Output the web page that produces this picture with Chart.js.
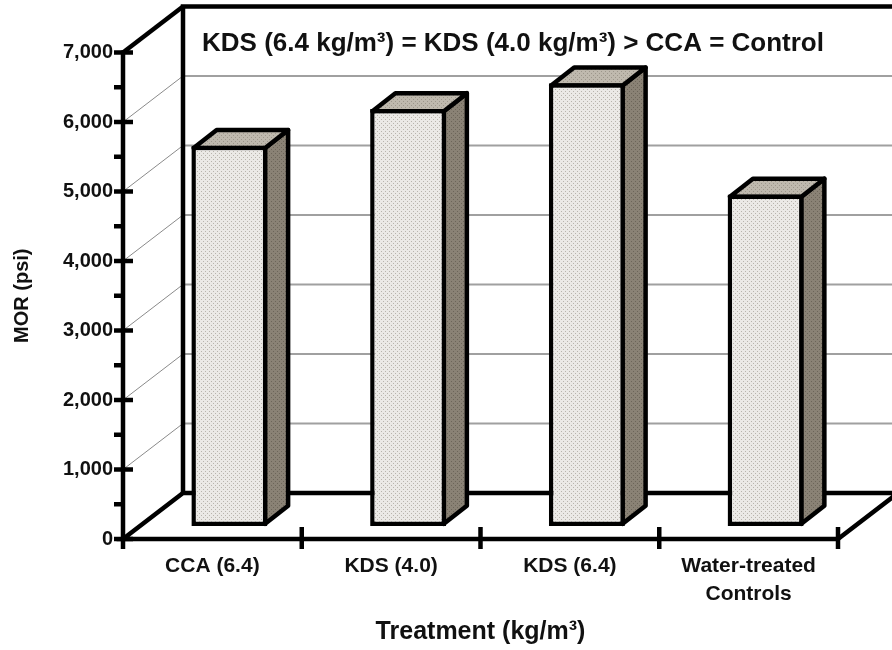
<!DOCTYPE html>
<html>
<head>
<meta charset="utf-8">
<script src="https://cdn.jsdelivr.net/npm/chart.js@4.4.1/dist/chart.umd.min.js"></script>
<style>
  html, body { margin: 0; padding: 0; background: #fff; }
  #wrap { width: 892px; height: 650px; }
</style>
</head>
<body>
<div id="wrap"><canvas id="c" width="892" height="650"></canvas></div>
<script>
// Modulus of rupture by preservative treatment
const treatments = ['CCA (6.4)', 'KDS (4.0)', 'KDS (6.4)', ['Water-treated', 'Controls']];
const morPsi = [5470, 6000, 6370, 4770];
const yTickValues = [0, 1000, 2000, 3000, 4000, 5000, 6000, 7000];
const chartTitle = 'KDS (6.4 kg/m³) = KDS (4.0 kg/m³) > CCA = Control';
const xAxisTitle = 'Treatment (kg/m³)';
const yAxisTitle = 'MOR (psi)';

const FONT = '"Liberation Sans", Arial, sans-serif';
const INK = '#111';

// 3-D projection offsets (pixels)
const WALL = { dx: 60, dy: -46 };       // floor / back wall depth
const BAR_FRONT = { dx: 17, dy: -13 };  // front face of the columns
const BAR_DEPTH = { dx: 23, dy: -18 };  // column thickness
const FRAME_W = 4.5;

const canvas = document.getElementById('c');
const ctx = canvas.getContext('2d');

function dotted(base, dot) {
  const t = document.createElement('canvas');
  t.width = t.height = 4;
  const g = t.getContext('2d');
  g.fillStyle = base; g.fillRect(0, 0, 4, 4);
  g.fillStyle = dot; g.fillRect(0, 0, 1, 1); g.fillRect(2, 2, 1, 1);
  return ctx.createPattern(t, 'repeat');
}
const frontFill = dotted('#ebe9e6', '#b8b4ad');
const topFill = dotted('#bfb9ae', '#9c968b');
const sideFill = dotted('#8a8275', '#6c6559');

function seg(c, x1, y1, x2, y2) {
  c.beginPath(); c.moveTo(x1, y1); c.lineTo(x2, y2); c.stroke();
}

const box3d = {
  id: 'box3d',
  beforeDatasetsDraw(chart) {
    const { ctx: c, chartArea: a, scales: { y: ys } } = chart;
    const y0 = ys.getPixelForValue(ys.min);
    const yT = ys.getPixelForValue(ys.max);
    c.save();
    // side wall and back wall grid lines
    yTickValues.forEach(v => {
      if (v === ys.min || v === ys.max) return;
      const y = ys.getPixelForValue(v);
      c.strokeStyle = '#8a8a8a'; c.lineWidth = 1;
      seg(c, a.left, y, a.left + WALL.dx, y + WALL.dy);
      c.strokeStyle = '#a0a0a0'; c.lineWidth = 1.8;
      seg(c, a.left + WALL.dx, y + WALL.dy, a.right + WALL.dx, y + WALL.dy);
    });
    // heavy frame: floor, back wall edges, top diagonal
    c.strokeStyle = '#000'; c.lineWidth = FRAME_W; c.lineJoin = 'miter';
    c.beginPath();
    c.moveTo(a.left, y0); c.lineTo(a.right, y0);
    c.lineTo(a.right + WALL.dx, y0 + WALL.dy);
    c.lineTo(a.left + WALL.dx, y0 + WALL.dy);
    c.closePath(); c.stroke();
    c.beginPath();
    c.moveTo(a.left + WALL.dx, y0 + WALL.dy);
    c.lineTo(a.left + WALL.dx, yT + WALL.dy);
    c.lineTo(a.right + WALL.dx, yT + WALL.dy);
    c.stroke();
    seg(c, a.left, yT, a.left + WALL.dx, yT + WALL.dy);
    c.restore();

    // columns: top and side faces; the front face is drawn by Chart.js
    c.save();
    c.translate(BAR_FRONT.dx, BAR_FRONT.dy);
    const h = FRAME_W / 2;
    chart.getDatasetMeta(0).data.forEach(bar => {
      const xl = bar.x - bar.width / 2 + h, xr = bar.x + bar.width / 2 - h;
      const yt = bar.y + h, yb = bar.base - h;
      c.lineWidth = FRAME_W; c.strokeStyle = '#000'; c.lineJoin = 'round';
      c.beginPath();
      c.moveTo(xr, yt); c.lineTo(xr + BAR_DEPTH.dx, yt + BAR_DEPTH.dy);
      c.lineTo(xr + BAR_DEPTH.dx, yb + BAR_DEPTH.dy); c.lineTo(xr, yb);
      c.closePath(); c.fillStyle = sideFill; c.fill(); c.stroke();
      c.beginPath();
      c.moveTo(xl, yt); c.lineTo(xl + BAR_DEPTH.dx, yt + BAR_DEPTH.dy);
      c.lineTo(xr + BAR_DEPTH.dx, yt + BAR_DEPTH.dy); c.lineTo(xr, yt);
      c.closePath(); c.fillStyle = topFill; c.fill(); c.stroke();
    });
    // keep the translation for the dataset drawing
  },
  afterDatasetsDraw(chart) {
    const { ctx: c, chartArea: a, scales: { y: ys } } = chart;
    c.restore();
    const y0 = ys.getPixelForValue(ys.min);
    const yT = ys.getPixelForValue(ys.max);
    c.save();
    c.strokeStyle = '#000'; c.lineWidth = FRAME_W; c.lineCap = 'butt';
    // front value axis
    seg(c, a.left, yT - 2, a.left, y0 + 10);
    // value ticks: major crossing the axis, minor outside
    yTickValues.forEach((v, i) => {
      const y = ys.getPixelForValue(v);
      seg(c, a.left - 9, y, a.left + 10, y);
      if (i < yTickValues.length - 1) {
        const ym = ys.getPixelForValue((v + yTickValues[i + 1]) / 2);
        seg(c, a.left - 9, ym, a.left + 2, ym);
      }
    });
    // category separators
    const step = (a.right - a.left) / treatments.length;
    for (let i = 1; i <= treatments.length; i++) {
      const x = a.left + i * step;
      seg(c, x, y0 - 12, x, y0 + 10);
    }
    c.restore();
  },
  afterDraw(chart) {
    const c = chart.ctx;
    c.save();
    c.fillStyle = INK;
    c.font = 'bold 26px ' + FONT;
    c.textAlign = 'center';
    c.textBaseline = 'middle';
    c.fillText(chartTitle, 513, 44);
    c.restore();
  }
};

new Chart(ctx, {
  type: 'bar',
  data: {
    labels: treatments,
    datasets: [{
      data: morPsi,
      backgroundColor: frontFill,
      borderColor: '#000',
      borderWidth: FRAME_W,
      borderSkipped: false,
      categoryPercentage: 1,
      barPercentage: 0.425,
      clip: false
    }]
  },
  options: {
    responsive: false,
    animation: false,
    devicePixelRatio: 1,
    layout: { padding: { left: 0, right: 54, top: 52.5, bottom: 0 } },
    plugins: {
      legend: { display: false },
      tooltip: { enabled: false },
      title: { display: false }
    },
    scales: {
      x: {
        grid: { display: false, drawTicks: false },
        border: { display: false },
        ticks: {
          color: INK,
          font: { family: FONT, size: 21, weight: 'bold', lineHeight: 1.3 },
          padding: 14,
          maxRotation: 0,
          autoSkip: false
        },
        title: {
          display: true, text: xAxisTitle, color: INK,
          font: { family: FONT, size: 25, weight: 'bold' },
          padding: { top: 0, bottom: 3 }
        },
        afterFit(s) { s.height = 111; }
      },
      y: {
        min: 0, max: 7000,
        grid: { display: false, drawTicks: false },
        border: { display: false },
        ticks: {
          stepSize: 1000,
          padding: 10,
          color: INK,
          font: { family: FONT, size: 20, weight: 'bold' },
          callback: v => v.toLocaleString('en-US')
        },
        title: {
          display: true, text: yAxisTitle, color: INK,
          font: { family: FONT, size: 20, weight: 'bold' },
          padding: { top: 10, bottom: 0 }
        },
        afterFit(s) { s.width = 123; }
      }
    }
  },
  plugins: [box3d]
});
</script>
</body>
</html>
